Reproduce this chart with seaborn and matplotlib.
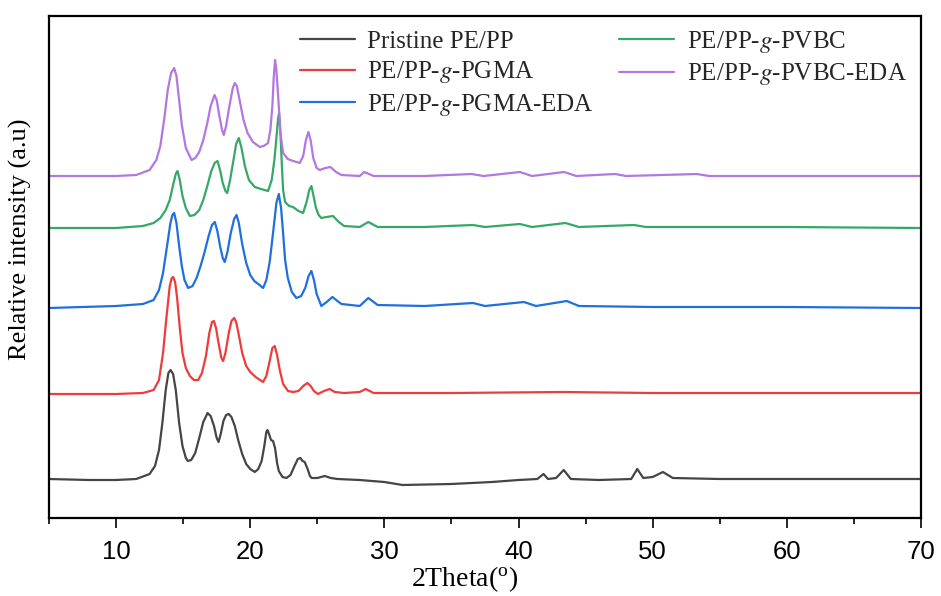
import numpy as np
import pandas as pd
import matplotlib
matplotlib.use("Agg")
import matplotlib.pyplot as plt
import seaborn as sns

# XRD patterns (stacked intensities, a.u.)
pristine_2theta = [5, 8, 10, 11.5, 12.5, 12.9, 13.2, 13.45, 13.7, 13.9, 14.06, 14.25, 14.45, 14.7,
                   14.95, 15.2, 15.35, 15.6, 15.9, 16.2, 16.5, 16.82, 17.05, 17.3, 17.5, 17.64, 17.8,
                   18.0, 18.2, 18.4, 18.6, 18.85, 19.1, 19.4, 19.7, 20.0, 20.34, 20.6, 20.85, 21.05,
                   21.2, 21.28, 21.4, 21.55, 21.7, 21.85, 22.0, 22.13, 22.4, 22.7, 23.0, 23.3, 23.55,
                   23.74, 23.9, 24.06, 24.25, 24.45, 24.58, 25.0, 25.55, 26.0, 26.5, 28.16, 30, 31.35,
                   35, 38, 40, 41.4, 41.86, 42.2, 42.8, 43.37, 43.9, 46, 48.4, 48.85, 49.3, 50, 50.76,
                   51.5, 55, 60, 70]
pristine_int = [39, 38, 38, 39, 44, 52, 68, 95, 128, 145, 148, 144, 128, 95,
                72, 60, 57, 58, 65, 80, 96, 105, 102, 92, 80, 76, 84,
                97, 103, 104, 101, 92, 78, 64, 54, 49, 46, 49, 57, 72,
                86, 88, 84, 78, 77, 70, 55, 47, 41, 40, 43, 52, 59,
                60, 57, 56, 50, 42, 40, 40, 42, 40, 39, 38, 36, 33,
                34, 36, 38, 39, 44, 39, 40, 48, 39, 38, 39, 49, 40, 41, 46,
                40, 39, 39, 39]

pgma_2theta = [5, 10, 12.0, 12.8, 13.2, 13.5, 13.75, 14.0, 14.15, 14.26, 14.4, 14.55, 14.75, 14.95,
               15.2, 15.5, 15.8, 16.12, 16.4, 16.7, 16.95, 17.15, 17.29, 17.45, 17.65, 17.85, 17.98,
               18.15, 18.4, 18.6, 18.8, 18.95, 19.15, 19.4, 19.7, 20.0, 20.4, 20.96, 21.2, 21.45,
               21.65, 21.83, 22.0, 22.2, 22.45, 22.82, 23.2, 23.6, 23.95, 24.26, 24.5, 24.75, 25.05,
               25.5, 25.92, 26.3, 27.0, 28.16, 28.6, 29.2, 35, 43.3, 50, 70]
pgma_int = [124, 124, 125, 128, 138, 165, 200, 232, 240, 241, 236, 220, 190, 165,
            150, 142, 138, 138, 145, 162, 185, 196, 197, 190, 174, 160, 157,
            165, 185, 197, 200, 196, 183, 165, 152, 146, 141, 136, 142, 157,
            170, 172, 163, 148, 134, 127, 126, 127, 132, 135, 132, 127, 124,
            127, 129, 126, 125, 126, 129, 125, 125, 126, 125, 125]

pgma_eda_2theta = [5, 10, 12.0, 12.8, 13.2, 13.5, 13.8, 14.05, 14.2, 14.33, 14.5, 14.7, 14.9, 15.1,
                   15.37, 15.7, 16.0, 16.3, 16.6, 16.9, 17.15, 17.36, 17.55, 17.75, 17.95, 18.1,
                   18.3, 18.55, 18.8, 18.98, 19.15, 19.4, 19.7, 20.0, 20.3, 20.6, 20.96, 21.2, 21.45,
                   21.7, 21.95, 22.13, 22.3, 22.45, 22.6, 22.8, 23.1, 23.44, 23.8, 24.1, 24.35, 24.56,
                   24.75, 24.95, 25.3, 25.7, 26.12, 26.5, 26.8, 28.16, 28.8, 29.5, 33, 36.6, 37.5,
                   40.4, 41.3, 43.6, 44.5, 50, 60, 70]
pgma_eda_int = [210, 212, 214, 218, 228, 245, 272, 295, 303, 305, 295, 272, 252, 238,
                230, 232, 240, 252, 266, 282, 293, 296, 287, 272, 260, 256,
                266, 285, 299, 303, 295, 274, 255, 243, 237, 234, 230, 238, 256,
                285, 315, 324, 310, 285, 258, 240, 226, 220, 222, 230, 242, 247,
                238, 224, 212, 216, 221, 217, 214, 212, 220, 213, 212, 215, 212,
                216, 212, 217, 212, 211, 211, 210]

pvbc_2theta = [5, 10, 12.0, 12.8, 13.3, 13.7, 14.0, 14.25, 14.45, 14.58, 14.75, 14.95, 15.2, 15.5,
               15.85, 16.2, 16.5, 16.8, 17.1, 17.35, 17.56, 17.75, 17.95, 18.15, 18.28, 18.5,
               18.75, 18.95, 19.15, 19.35, 19.6, 19.9, 20.34, 20.8, 21.33, 21.6, 21.8, 21.95,
               22.08, 22.15, 22.25, 22.35, 22.45, 22.6, 22.9, 23.19, 23.6, 23.94, 24.2, 24.4,
               24.56, 24.72, 24.9, 25.1, 25.3, 25.7, 26.17, 26.6, 27.0, 28.16, 28.8, 29.5, 33,
               36.6, 37.5, 40.1, 41, 43.5, 44.5, 48.6, 49.5, 60, 70]
pvbc_int = [290, 290, 292, 295, 300, 308, 318, 333, 344, 347, 338, 322, 310, 302,
            303, 308, 318, 332, 347, 355, 357, 348, 335, 327, 325, 338,
            358, 374, 380, 370, 352, 338, 331, 329, 327, 338, 358, 380,
            400, 405, 385, 355, 328, 316, 312, 311, 307, 305, 316, 328,
            332, 322, 310, 303, 300, 301, 302, 296, 292, 291, 296, 291, 291,
            293, 291, 294, 291, 295, 291, 293, 291, 291, 290]

pvbc_eda_2theta = [5, 10, 11.5, 12.5, 13.0, 13.3, 13.6, 13.85, 14.1, 14.33, 14.5, 14.7, 14.9, 15.2,
                   15.63, 15.9, 16.2, 16.5, 16.8, 17.05, 17.34, 17.5, 17.7, 17.9, 18.03, 18.2, 18.45,
                   18.7, 18.85, 19.0, 19.25, 19.5, 19.8, 20.2, 20.71, 21.0, 21.33, 21.5, 21.65, 21.75,
                   21.85, 21.95, 22.1, 22.25, 22.45, 22.8, 23.2, 23.69, 23.95, 24.15, 24.34, 24.5,
                   24.7, 24.95, 25.18, 25.6, 25.98, 26.4, 26.8, 28.16, 28.5, 29.2, 33, 36.5, 37.4,
                   40.1, 41, 43.4, 44.3, 47.2, 48, 53.3, 54.2, 70]
pvbc_eda_int = [342, 342, 343, 348, 358, 372, 400, 428, 445, 450, 442, 418, 393, 370,
                358, 360, 366, 378, 395, 412, 423, 418, 402, 388, 383, 392, 412,
                430, 435, 432, 415, 398, 385, 376, 371, 372, 375, 388, 412, 440,
                458, 448, 418, 385, 365, 359, 357, 355, 362, 378, 386, 378,
                360, 350, 348, 350, 351, 346, 343, 342, 346, 342, 342, 344, 342,
                346, 342, 346, 342, 344, 342, 344, 342, 342]

sample_names = ["Pristine PE/PP", "PE/PP-$\\it{g}$-PGMA", "PE/PP-$\\it{g}$-PGMA-EDA",
                "PE/PP-$\\it{g}$-PVBC", "PE/PP-$\\it{g}$-PVBC-EDA"]
sample_colors = ["#454545", "#ef3b3b", "#1f6fdc", "#35a866", "#b277e0"]

series = [(pristine_2theta, pristine_int), (pgma_2theta, pgma_int),
          (pgma_eda_2theta, pgma_eda_int), (pvbc_2theta, pvbc_int),
          (pvbc_eda_2theta, pvbc_eda_int)]

frames = []
for name, (tt, inten) in zip(sample_names, series):
    frames.append(pd.DataFrame({"2theta": tt, "intensity": inten, "sample": name}))
df = pd.concat(frames, ignore_index=True)

sns.set_theme(style="white")
plt.rcParams["font.family"] = ["Liberation Serif", "DejaVu Serif"]
plt.rcParams["mathtext.fontset"] = "stix"

fig = plt.figure(figsize=(9.41, 5.96), dpi=100)
ax = fig.add_axes([49 / 941, 78 / 596, 872 / 941, 502 / 596])

sns.lineplot(data=df, x="2theta", y="intensity", hue="sample", hue_order=sample_names,
             palette=dict(zip(sample_names, sample_colors)), estimator=None, sort=False,
             linewidth=1.6, ax=ax)

ax.set_xlim(5, 70)
ax.set_ylim(0, 502)
ax.set_xticks([10, 20, 30, 40, 50, 60, 70])
ax.set_xticks([5, 15, 25, 35, 45, 55, 65], minor=True)
ax.set_yticks([])
ax.tick_params(axis="x", which="major", direction="out", length=7, width=1.4,
               bottom=True, top=False, pad=9)
ax.tick_params(axis="x", which="minor", direction="out", length=4, width=1.4,
               bottom=True, top=False)
for lab in ax.get_xticklabels():
    lab.set_fontfamily(["Liberation Sans", "DejaVu Sans"])
    lab.set_fontsize(18.5)
    lab.set_color("black")
for sp in ax.spines.values():
    sp.set_visible(True)
    sp.set_color("black")
    sp.set_linewidth(1.6)

ax.set_xlabel("2Theta($^\\mathregular{o}$)", fontsize=20, color="black")
ax.xaxis.set_label_coords(0.477, -0.093)
ax.set_ylabel("Relative intensity (a.u)", fontsize=19, color="black")
ax.yaxis.set_label_coords(-0.02, 0.555)

ax.legend(ncol=2, frameon=False, loc="upper left", bbox_to_anchor=(0.2878, 0.974),
          borderaxespad=0, borderpad=0, fontsize=18, handlelength=2.2,
          handletextpad=0.5, columnspacing=1.0, labelspacing=0.25)

fig.savefig("out.png", dpi=100)
